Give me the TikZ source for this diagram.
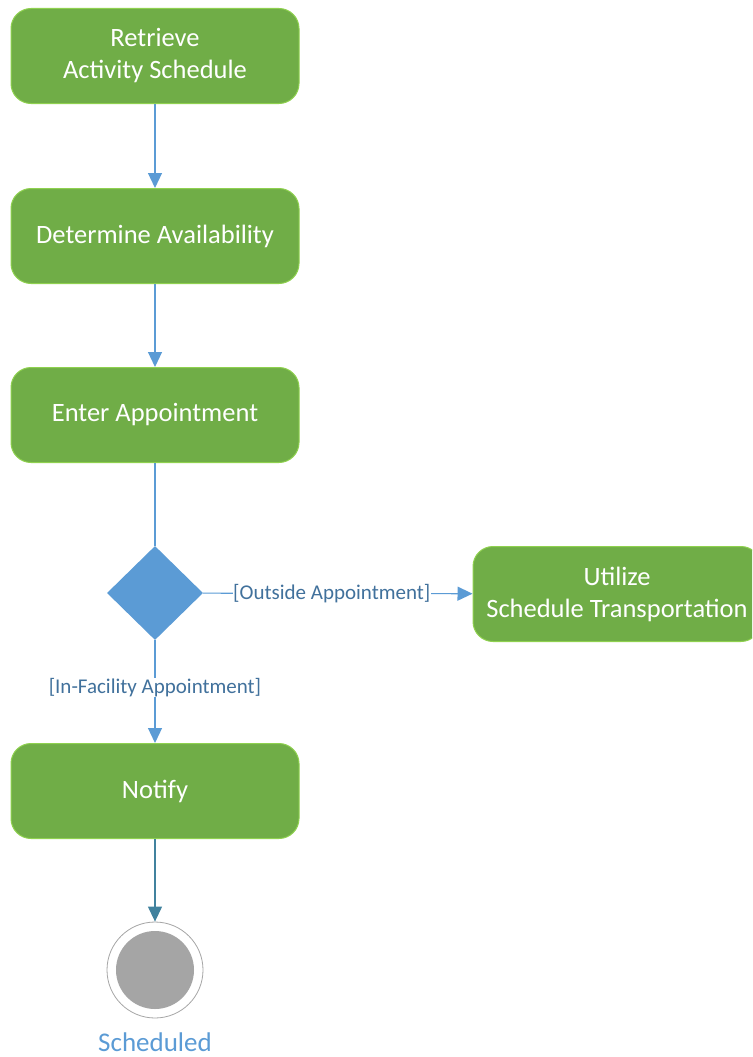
\documentclass[tikz,border=0pt]{standalone}
\usepackage{fontspec}
\setmainfont{Carlito}
\usetikzlibrary{shapes.geometric,arrows.meta}

\definecolor{actgreen}{HTML}{70AD47}
\definecolor{actborder}{HTML}{8FD14F}
\definecolor{flowblue}{HTML}{5B9BD5}
\definecolor{flowteal}{HTML}{41829E}
\definecolor{guardblue}{HTML}{41719C}
\definecolor{endgray}{HTML}{A5A5A5}

\begin{document}
\begin{tikzpicture}[x=1pt,y=-1pt,
	act/.style={draw=actborder,fill=actgreen,line width=1pt,rounded corners=20pt,
		minimum width=288pt,minimum height=95pt,align=center,text=white,
		font=\fontsize{26.5}{32}\selectfont},
	decide/.style={diamond,fill=flowblue,minimum width=96pt,minimum height=94pt,
		inner sep=0pt,aspect=1},
	flow/.style={draw=flowblue,line width=1.2pt,-{Triangle[width=14pt,length=15pt]}},
	guard/.style={fill=white,text=guardblue,inner sep=0.5pt,font=\fontsize{21}{24}\selectfont},
	]
			\useasboundingbox (0,0) rectangle (752,1057);
			\clip (0,0) rectangle (752,1057);

			\node[act] (retrieve) at (155,56) {Retrieve\\Activity Schedule};
			\node[act] (avail) at (155,236) {Determine Availability};
			\node[act] (enter) at (155,415) {Enter Appointment};
			\node[decide] (choice) at (155,593) {};
			\node[act] (transport) at (617,594) {Utilize\\Schedule Transportation};
			\node[act] (notify) at (155,791) {Notify};

			% final node
			\node[circle,draw=endgray,fill=white,minimum size=96pt,line width=0.8pt] (done) at (155,970) {};
			\node[circle,fill=endgray,minimum size=78pt] at (done) {};
			\node[text=flowblue,inner sep=0pt,font=\fontsize{27}{30}\selectfont] (donelabel) at (155,1042) {Scheduled};

			\draw[flow] (retrieve) -- (avail);
			\draw[flow] (avail) -- (enter);
			\draw[draw=flowblue,line width=1.2pt] (enter) -- (choice);
			\draw[flow] (choice) -- node[guard,xshift=-6pt]{[Outside Appointment]} (transport);
			\draw[flow] (choice) -- node[guard,yshift=4pt]{[In-Facility Appointment]} (notify);
			\draw[flow,draw=flowteal,fill=flowteal] (notify) -- (done);
		\end{tikzpicture}
\end{document}
